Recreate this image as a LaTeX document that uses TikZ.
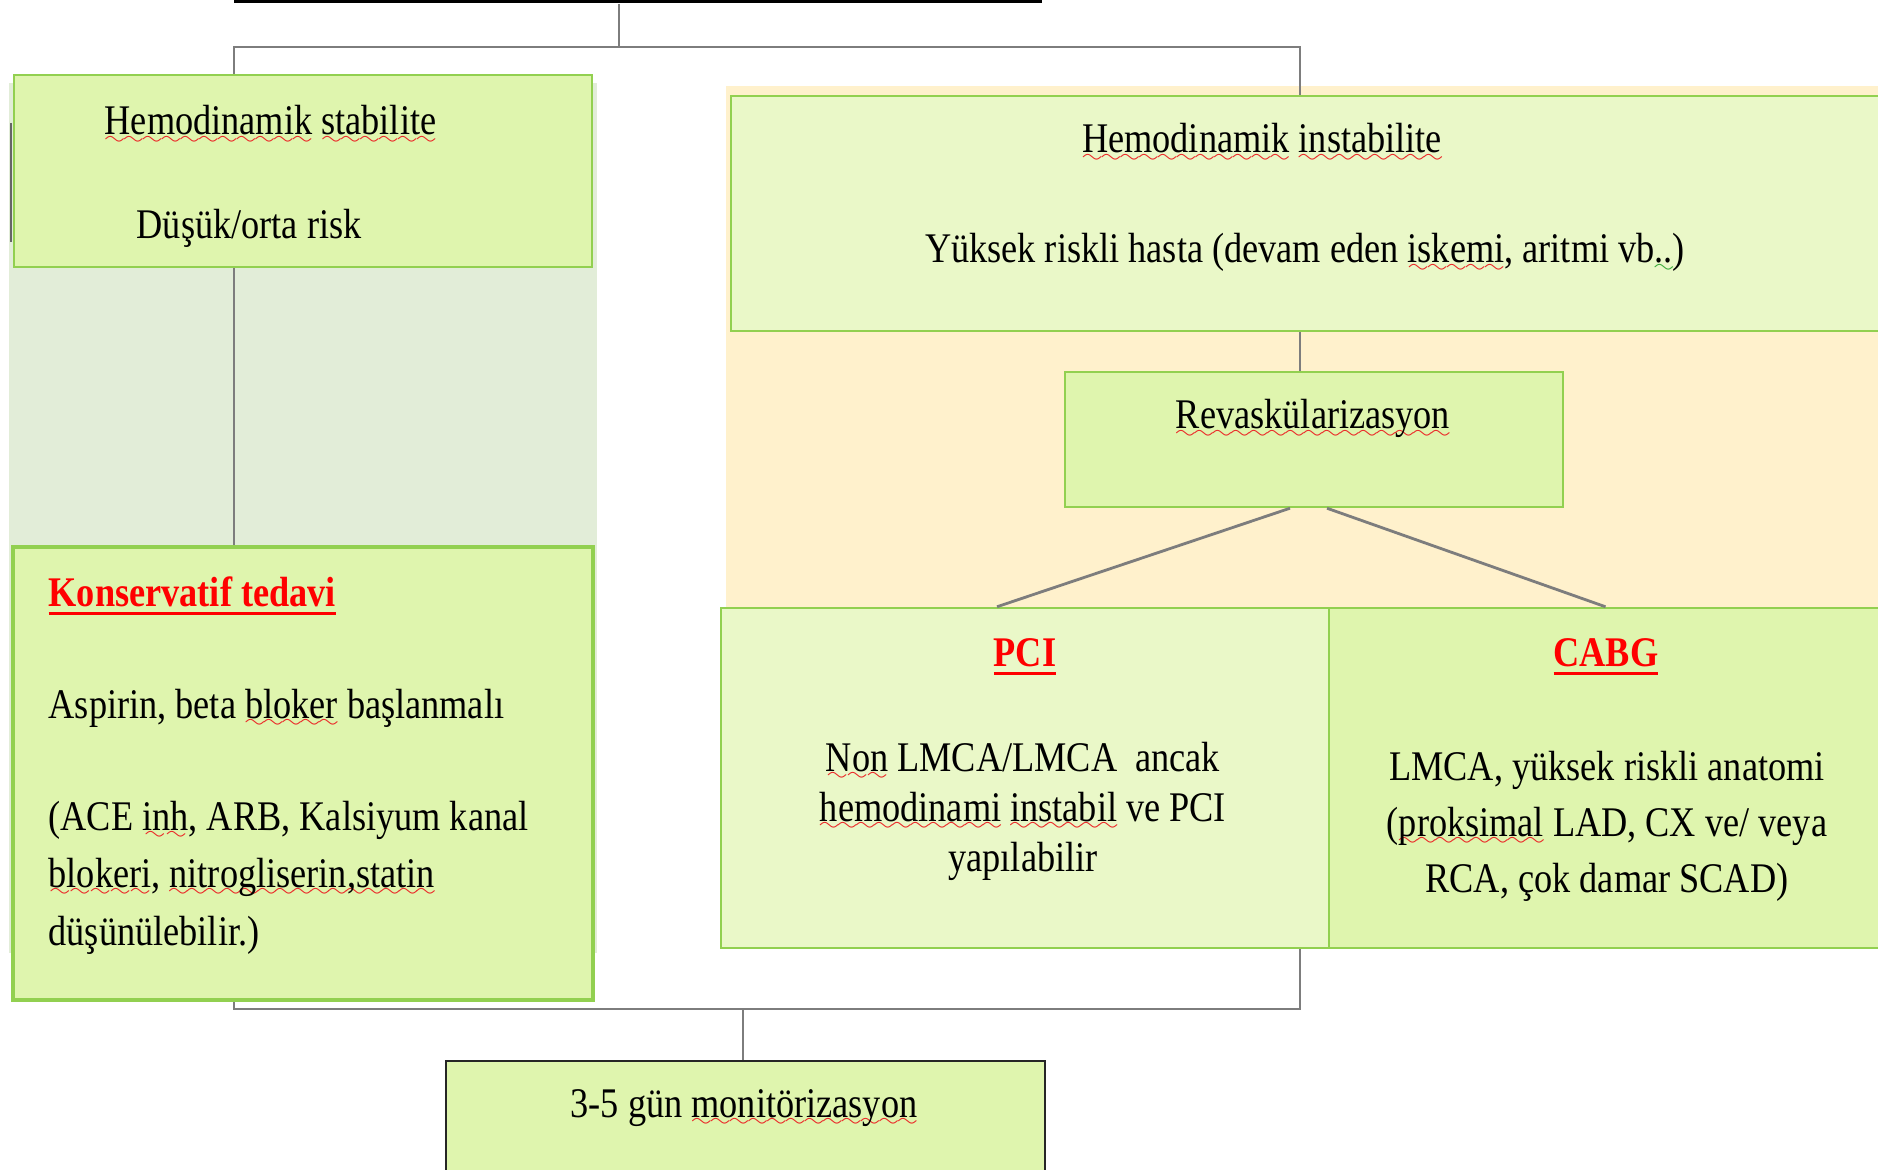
\documentclass[tikz,border=0pt]{standalone}
\usepackage{fontspec}
\setmainfont{Liberation Serif}[FakeStretch=0.86]
\usetikzlibrary{fit,calc}
\definecolor{boxgreen}{RGB}{223,245,174}
\definecolor{boxlight}{RGB}{234,248,200}
\definecolor{edgegreen}{RGB}{146,208,80}
\definecolor{peach}{RGB}{255,241,204}
\definecolor{palegreen}{RGB}{226,237,216}
\definecolor{linegray}{RGB}{125,125,125}
\definecolor{spellred}{RGB}{235,40,40}
\definecolor{spellgreen}{RGB}{60,170,60}
\font\sixly=lasy6
\newsavebox\wordbox
\newcommand\wavy[2]{\sbox\wordbox{#2}\rlap{\color{#1}\lower2.6pt\hbox to\wd\wordbox{\xleaders\hbox{\sixly\char58}\hfill}}\usebox\wordbox}
\newcommand\spell{\wavy{spellred}}
\newcommand\gram{\wavy{spellgreen}}
\newcommand\head[1]{\sbox\wordbox{\color{red}\bfseries #1}{\color{red}\rlap{\vrule width\wd\wordbox height -1.7pt depth 2.5pt}\usebox\wordbox}}
\tikzset{
  box/.style={draw=edgegreen, fill=boxgreen, line width=0.7pt, inner sep=0pt},
  conn/.style={draw=linegray, line width=0.8pt},
  txt/.style={inner sep=0pt, font=\fontsize{12}{14.2}\selectfont}
}
\begin{document}
\begin{tikzpicture}[x=0.01cm,y=-0.01cm]
		\useasboundingbox (0,0) rectangle (1878,1170);
		% Arka plan
		\fill[palegreen] (9,83) rectangle (597,953);
		\fill[peach] (726,86) rectangle (1878,948);
		\draw[black!60, line width=0.6pt] (11,123) -- (11,242);
		% Kutular
		\node[fill=black, inner sep=0pt, fit={(234,0) (1042,3)}] (bar) {};
		\node[box, fit={(14,75) (592,267)}] (stab) {};
		\node[box, line width=1.2pt, fit={(13,547) (593,1000)}] (kons) {};
		\node[box, fill=boxlight, fit={(731,96) (1890,331)}] (instab) {};
		\node[box, fit={(1065,372) (1563,507)}] (revask) {};
		\node[box, fill=boxlight, fit={(721,608) (1329,948)}] (pci) {};
		\node[box, fit={(1329,608) (1890,948)}] (cabg) {};
		\node[box, draw=black!85, fit={(446,1061) (1045,1185)}] (mon) {};
		% Metinler
		\node[txt, anchor=base west] (stabT) at (104,135) {\spell{Hemodinamik} \spell{stabilite}};
		\node[txt, anchor=base west] (riskT) at (136,239) {Düşük/orta risk};
		\node[txt, anchor=base] (instabT) at (1262,153) {\spell{Hemodinamik} \spell{instabilite}};
		\node[txt, anchor=base] (yuksekT) at (1305,263) {Yüksek riskli hasta (devam eden \spell{iskemi}, aritmi vb\gram{..})};
		\node[txt, anchor=base] (revaskT) at (1313,429) {\spell{Revaskülarizasyon}};
		\node[txt, anchor=base] (pciT) at (1025,666) {\head{PCI}};
		\node[txt, anchor=base, align=center] (pciD) at (1023,871) {\spell{Non} LMCA/LMCA\ \ ancak\\ \spell{hemodinami} \spell{instabil} ve PCI\\ yapılabilir};
		\node[txt, anchor=base] (cabgT) at (1606,666) {\head{CABG}};
		\node[txt, anchor=base, align=center, font=\fontsize{12}{15.9}\selectfont] (cabgD) at (1607,892) {LMCA, yüksek riskli anatomi\\ (\spell{proksimal} LAD, CX ve/ veya\\ RCA, çok damar SCAD)};
		\node[txt, anchor=base west] (konsT) at (48,606) {\head{Konservatif tedavi}};
		\node[txt, anchor=base west] (aspT) at (48,718) {Aspirin, beta \spell{bloker} başlanmalı};
		\node[txt, anchor=base west, align=left, font=\fontsize{12}{16.3}\selectfont] (aceT) at (48,945) {(ACE \spell{inh}, ARB, Kalsiyum kanal\\ \spell{blokeri}, \spell{nitrogliserin,statin}\\ düşünülebilir.)};
		\node[txt, anchor=base] (monT) at (744,1117) {3-5 gün \spell{monitörizasyon}};
		% Baglantilar
		\coordinate (jt) at (619,47);
		\coordinate (jl) at (234,47);
		\coordinate (jr) at (1300,47);
		\coordinate (jb) at (743,1009);
		\draw[conn] (bar.south -| jt) -- (jt);
		\draw[conn] (stab.north -| jl) -- (jl) -- (jr) -- (instab.north -| jr);
		\draw[conn] (stab.south -| jl) -- (kons.north -| jl);
		\draw[conn] (instab.south -| jr) -- (revask.north -| jr);
		\draw[conn] ($(revask.south)+(-24,0)$) -- ($(pci.north)+(-28,0)$);
		\draw[conn] ($(revask.south)+(13,0)$) -- ($(cabg.north)+(-4,0)$);
		\draw[conn] (kons.south -| jl) -- (jl |- jb) -- (jr |- jb) -- (pci.south -| jr);
		\draw[conn] (jb) -- (mon.north -| jb);
\end{tikzpicture}
\end{document}
